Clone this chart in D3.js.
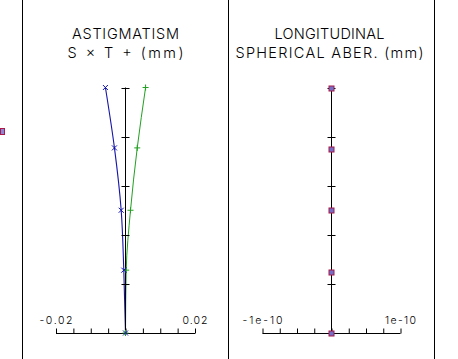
<!DOCTYPE html>
<html><head><meta charset="utf-8">
<script src="https://cdn.jsdelivr.net/npm/d3@7"></script>
<style>html,body{margin:0;padding:0;background:#fff}svg{display:block}</style>
</head><body>
<script>
// ---- data ----
const astigFields = [0, 0.256, 0.5, 0.754, 1.0];
const sagittal = [0, -0.00049, -0.00124, -0.00318, -0.00578];
const tangential = [0, 0.0002, 0.00144, 0.00338, 0.00578];
const astigTicks = [-0.02, -0.015, -0.01, -0.005, 0, 0.005, 0.01, 0.015, 0.02];
const astigTickLabels = ["-0.02", "0.02"];
const sphFields = [0, 0.25, 0.5, 0.75, 1.0];
const sphAber = [0, 0, 0, 0, 0];
const sphTicks = [-1e-10, -0.75e-10, -0.5e-10, -0.25e-10, 0, 0.25e-10, 0.5e-10, 0.75e-10, 1e-10];
const sphTickLabels = ["-1e-10", "1e-10"];
const fieldTicks = [0.2, 0.4, 0.6, 0.8];

const W = 458, H = 359;
const svg = d3.select("body").append("svg").attr("width", W).attr("height", H);
const FONT = "Inter, 'Liberation Sans', sans-serif";
const BLUE = "#1414a8", GREEN = "#22a022", BLACK = "#000";

// panel borders
[22.5, 228.5, 434.5].forEach(x => svg.append("line").attr("x1", x).attr("x2", x).attr("y1", 0).attr("y2", H)
  .attr("stroke", BLACK).attr("stroke-width", 1));

// small marker at left edge
svg.append("rect").attr("x", 0.5).attr("y", 128.5).attr("width", 4).attr("height", 6)
  .attr("fill", "#8888d8").attr("stroke", "#b0184a").attr("stroke-width", 1);

const y = d3.scaleLinear().domain([0, 1]).range([333, 87.5]);

function title(cx, l1, w1, l2, w2) {
  svg.append("text").attr("x", cx).attr("y", 39).attr("text-anchor", "middle")
    .attr("font-family", FONT).attr("font-weight", 300).attr("font-size", 14.5).attr("textLength", w1).attr("lengthAdjust", "spacing").text(l1);
  svg.append("text").attr("x", cx).attr("y", 58).attr("text-anchor", "middle")
    .attr("font-family", FONT).attr("font-weight", 300).attr("font-size", 14.5).attr("textLength", w2).attr("lengthAdjust", "spacing").text(l2);
}

function frame(x, ticks, labels, lw) {
  const g = svg.append("g");
  const ax = d3.axisTop(x).tickValues(ticks).tickSize(5).tickFormat("");
  g.append("g").attr("transform", "translate(0,333.5)").call(ax)
    .call(s => s.select(".domain").attr("d", `M${x(ticks[0])},0H${x(ticks[ticks.length-1])}`))
    .call(s => s.selectAll("line").attr("stroke", BLACK));
  const ends = [ticks[0], ticks[ticks.length - 1]];
  ends.forEach((v, i) => g.append("text").attr("x", x(v)).attr("y", 323.5).attr("text-anchor", "middle")
    .attr("font-family", FONT).attr("font-weight", 300).attr("font-size", 10.5)
    .attr("textLength", lw[i]).attr("lengthAdjust", "spacing").text(labels[i]));
  const x0 = x(0);
  g.append("line").attr("x1", x0).attr("x2", x0).attr("y1", y(0)).attr("y2", y(1)).attr("stroke", BLACK);
  fieldTicks.concat([1]).forEach(f => g.append("line").attr("x1", x0 - 4).attr("x2", x0 + 4)
    .attr("y1", Math.round(y(f)) + 0.5).attr("y2", Math.round(y(f)) + 0.5).attr("stroke", BLACK));
}

const line = (xs, vals, fields) => d3.line().x((d, i) => xs(vals[i])).y((d, i) => y(fields[i])).curve(d3.curveMonotoneY)(vals);

// ---- Astigmatism ----
title(125.5, "ASTIGMATISM", 107, "S \u00d7 T + (mm)", 116);
const xa = d3.scaleLinear().domain([-0.02, 0.02]).range([56, 195]);
svg.append("path").attr("d", line(xa, tangential, astigFields)).attr("fill", "none").attr("stroke", GREEN).attr("stroke-width", 1);
svg.append("path").attr("d", line(xa, sagittal, astigFields)).attr("fill", "none").attr("stroke", BLUE).attr("stroke-width", 1.1);
frame(xa, astigTicks, astigTickLabels, [33, 25]);
tangential.forEach((v, i) => {
  const px = xa(v), py = y(astigFields[i]);
  svg.append("path").attr("d", `M${px-3},${py}H${px+3}M${px},${py-3}V${py+3}`).attr("stroke", GREEN).attr("stroke-width", 1);
});
sagittal.forEach((v, i) => {
  const px = xa(v), py = y(astigFields[i]);
  svg.append("path").attr("d", `M${px-2.5},${py-2.5}L${px+2.5},${py+2.5}M${px-2.5},${py+2.5}L${px+2.5},${py-2.5}`).attr("stroke", BLUE).attr("stroke-width", 1);
});

// ---- Longitudinal spherical aberration ----
title(329.5, "LONGITUDINAL", 110, "SPHERICAL ABER. (mm)", 188);
const xs = d3.scaleLinear().domain([-1e-10, 1e-10]).range([262.5, 400.5]);
frame(xs, sphTicks, sphTickLabels, [40, 31]);
sphAber.forEach((v, i) => {
  const px = Math.round(xs(v) - 0.5) + 0.5, py = Math.round(y(sphFields[i])) + 0.5;
  svg.append("rect").attr("x", px - 2.5).attr("y", py - 2.5).attr("width", 5).attr("height", 5)
    .attr("fill", "#7070c8").attr("stroke", "#a81848").attr("stroke-width", 1);
});
</script>
</body></html>
